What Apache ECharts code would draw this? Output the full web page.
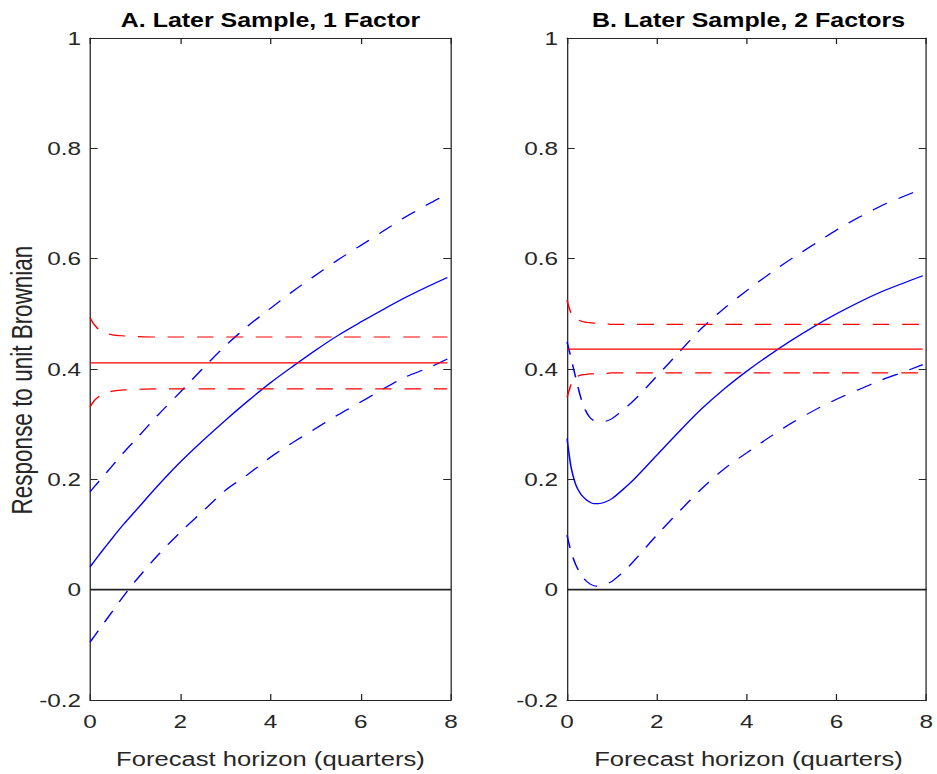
<!DOCTYPE html>
<html>
<head>
<meta charset="utf-8">
<script src="https://cdn.jsdelivr.net/npm/echarts@6/dist/echarts.min.js"></script>
<style>
html,body{margin:0;padding:0;background:#fff;overflow:hidden;}
#wrap{width:937px;height:774px;overflow:hidden;}
#chart{width:732px;height:774px;transform:scaleX(1.28);transform-origin:0 0;}
</style>
</head>
<body>
<div id="wrap"><div id="chart"></div></div>
<script>
// ---------- data ----------
const titles = ['A. Later Sample, 1 Factor', 'B. Later Sample, 2 Factors'];
const xLabel = 'Forecast horizon (quarters)';
const yLabel = 'Response to unit Brownian';

// Panel A
const xA      = [0, 0.1, 0.25, 0.5, 0.75, 1, 1.5, 2, 2.5, 3, 3.5, 4, 4.5, 5, 5.5, 6, 6.5, 7, 7.5, 7.92];
const aMid    = [0.041, 0.052, 0.068, 0.094, 0.119, 0.142, 0.188, 0.231, 0.270, 0.307, 0.342, 0.375, 0.405, 0.434, 0.461, 0.485, 0.508, 0.530, 0.550, 0.566];
const aUp     = [0.177, 0.187, 0.201, 0.225, 0.249, 0.271, 0.316, 0.358, 0.401, 0.442, 0.478, 0.510, 0.541, 0.570, 0.598, 0.624, 0.650, 0.676, 0.699, 0.717];
const aLo     = [-0.095, -0.084, -0.067, -0.039, -0.011, 0.015, 0.062, 0.104, 0.142, 0.180, 0.209, 0.240, 0.267, 0.292, 0.317, 0.340, 0.364, 0.386, 0.402, 0.418];
const aRedMid = [0.411, 0.411, 0.411, 0.411, 0.411, 0.411, 0.411, 0.411, 0.411, 0.411, 0.411, 0.411, 0.411, 0.411, 0.411, 0.411, 0.411, 0.411, 0.411, 0.411];
const aRedUp  = [0.493, 0.480, 0.468, 0.462, 0.460, 0.459, 0.458, 0.458, 0.458, 0.458, 0.458, 0.458, 0.458, 0.458, 0.458, 0.458, 0.458, 0.458, 0.458, 0.458];
const aRedLo  = [0.331, 0.343, 0.353, 0.360, 0.362, 0.363, 0.364, 0.364, 0.364, 0.364, 0.364, 0.364, 0.364, 0.364, 0.364, 0.364, 0.364, 0.364, 0.364, 0.364];

// Panel B
const xB      = [0, 0.05, 0.1, 0.2, 0.3, 0.4, 0.5, 0.6, 0.7, 0.85, 1, 1.25, 1.5, 2, 2.5, 3, 3.5, 4, 4.5, 5, 5.5, 6, 6.5, 7, 7.5, 7.92];
const bMid    = [0.274, 0.243, 0.218, 0.189, 0.174, 0.165, 0.159, 0.156, 0.156, 0.159, 0.165, 0.182, 0.201, 0.244, 0.287, 0.328, 0.364, 0.396, 0.425, 0.452, 0.477, 0.500, 0.521, 0.540, 0.556, 0.569];
const bUp     = [0.449, 0.433, 0.416, 0.382, 0.350, 0.327, 0.313, 0.306, 0.304, 0.305, 0.310, 0.326, 0.344, 0.387, 0.431, 0.474, 0.510, 0.542, 0.572, 0.600, 0.626, 0.652, 0.675, 0.696, 0.713, 0.727];
const bLo     = [0.099, 0.081, 0.066, 0.044, 0.029, 0.018, 0.011, 0.007, 0.006, 0.009, 0.015, 0.032, 0.053, 0.099, 0.142, 0.183, 0.219, 0.248, 0.276, 0.302, 0.325, 0.345, 0.363, 0.380, 0.395, 0.408];
const bRedMid = [0.436, 0.436, 0.436, 0.436, 0.436, 0.436, 0.436, 0.436, 0.436, 0.436, 0.436, 0.436, 0.436, 0.436, 0.436, 0.436, 0.436, 0.436, 0.436, 0.436, 0.436, 0.436, 0.436, 0.436, 0.436, 0.436];
const bRedUp  = [0.525, 0.510, 0.500, 0.491, 0.487, 0.485, 0.484, 0.483, 0.482, 0.482, 0.481, 0.481, 0.481, 0.481, 0.481, 0.481, 0.481, 0.481, 0.481, 0.481, 0.481, 0.481, 0.481, 0.481, 0.481, 0.481];
const bRedLo  = [0.349, 0.362, 0.374, 0.385, 0.389, 0.390, 0.391, 0.391, 0.392, 0.392, 0.393, 0.393, 0.393, 0.393, 0.393, 0.393, 0.393, 0.393, 0.393, 0.393, 0.393, 0.393, 0.393, 0.393, 0.393, 0.393];

const zeroX = [0, 8];
const zeroY = [0, 0];

// ---------- chart ----------
const FONT = "'Liberation Sans', Arial, Helvetica, sans-serif";
const AX = '#262626';
const zip = (xs, ys) => xs.map((x, i) => [x, ys[i]]);

const chart = echarts.init(document.getElementById('chart'), null, {renderer: 'svg'});

const grids = [
  {left: 70.3, top: 38, width: 282, height: 662},
  {left: 443, top: 38, width: 283.6, height: 662}
];

function xAx(gi, pos, labels) {
  return {
    type: 'value', gridIndex: gi, position: pos, min: 0, max: 8, interval: 2,
    axisLine: {show: true, onZero: false, lineStyle: {color: AX, width: 1}},
    axisTick: {show: true, inside: true, length: 6, lineStyle: {color: AX, width: 1}},
    axisLabel: {show: labels, color: AX, fontFamily: FONT, fontSize: 19, margin: 12},
    splitLine: {show: false}
  };
}
function yAx(gi, pos, labels) {
  return {
    type: 'value', gridIndex: gi, position: pos, min: -0.2, max: 1, interval: 0.2,
    axisLine: {show: true, onZero: false, lineStyle: {color: AX, width: 1}},
    axisTick: {show: true, inside: true, length: 6, lineStyle: {color: AX, width: 1}},
    axisLabel: {show: labels, color: AX, fontFamily: FONT, fontSize: 19, margin: 7},
    splitLine: {show: false}
  };
}

const DASH = [13, 10];
function line(xi, yi, xs, ys, color, dashed, width) {
  return {
    type: 'line', xAxisIndex: xi, yAxisIndex: yi, data: zip(xs, ys),
    showSymbol: false, symbol: 'none', smooth: 0.3,
    lineStyle: {color: color, width: width || 1.2, type: dashed ? DASH : 'solid'},
    silent: true, animation: false, z: 3
  };
}

const series = [
  line(0, 0, zeroX, zeroY, '#222', false, 1.6),
  line(0, 0, xA, aMid, '#0000ff', false),
  line(0, 0, xA, aUp, '#0000ff', true),
  line(0, 0, xA, aLo, '#0000ff', true),
  line(0, 0, xA, aRedMid, '#ff0000', false),
  line(0, 0, xA, aRedUp, '#ff0000', true),
  line(0, 0, xA, aRedLo, '#ff0000', true),
  line(2, 2, zeroX, zeroY, '#222', false, 1.6),
  line(2, 2, xB, bMid, '#0000ff', false),
  line(2, 2, xB, bUp, '#0000ff', true),
  line(2, 2, xB, bLo, '#0000ff', true),
  line(2, 2, xB, bRedMid, '#ff0000', false),
  line(2, 2, xB, bRedUp, '#ff0000', true),
  line(2, 2, xB, bRedLo, '#ff0000', true)
];

function txt(x, y, s, size, weight, rot) {
  return {
    type: 'text', x: x, y: y, rotation: rot || 0, silent: true,
    style: {text: s, fontFamily: FONT, fontSize: size, fontWeight: weight || 'normal', fill: weight === 'bold' ? '#000' : AX,
            align: 'center', verticalAlign: 'middle', textAlign: 'center', textVerticalAlign: 'middle'}
  };
}

chart.setOption({
  animation: false,
  backgroundColor: '#fff',
  grid: grids,
  xAxis: [xAx(0, 'bottom', true), xAx(0, 'top', false), xAx(1, 'bottom', true), xAx(1, 'top', false)],
  yAxis: [yAx(0, 'left', true), yAx(0, 'right', false), yAx(1, 'left', true), yAx(1, 'right', false)],
  series: series,
  graphic: [
    txt(70.3 + 141, 20, titles[0], 19.5, 'bold'),
    txt(443 + 141.8, 20, titles[1], 19.5, 'bold'),
    txt(70.3 + 141, 759, xLabel, 20),
    txt(443 + 141.8, 759, xLabel, 20),
    txt(17.5, 380, yLabel, 22.5, 'normal', Math.PI / 2)
  ]
});
</script>
</body>
</html>
